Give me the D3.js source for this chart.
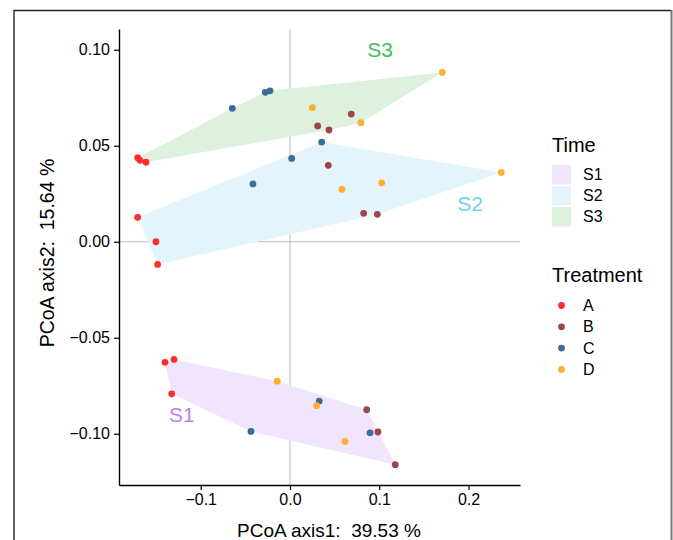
<!DOCTYPE html>
<html>
<head>
<meta charset="utf-8">
<script src="https://cdn.jsdelivr.net/npm/d3@7"></script>
<style>
  body { margin: 0; background: #fff; }
  svg { display: block; font-family: "Liberation Sans", Arial, sans-serif; }
</style>
</head>
<body>
<div id="chart-area"></div>
<script>
// ---- data ----
const treatments = ["A", "B", "C", "D"]
const times = ["S1", "S2", "S3"]

// one entry per sample: [PCoA1, PCoA2]
const s1A = [[-0.1400, -0.0628], [-0.1299, -0.0613], [-0.1325, -0.0792]]
const s1B = [[0.0859, -0.0875], [0.0985, -0.0991], [0.1179, -0.1161]]
const s1C = [[-0.0437, -0.0988], [0.0328, -0.0830], [0.0896, -0.0995]]
const s1D = [[-0.0142, -0.0726], [0.0299, -0.0854], [0.0616, -0.1040]]

const s2A = [[-0.1706, 0.0127], [-0.1501, 0.0000], [-0.1482, -0.0118]]
const s2B = [[0.0429, 0.0398], [0.0825, 0.0148], [0.0978, 0.0143]]
const s2C = [[-0.0414, 0.0301], [0.0019, 0.0434], [0.0355, 0.0519]]
const s2D = [[0.0582, 0.0273], [0.1027, 0.0307], [0.2366, 0.0361]]

const s3A = [[-0.1706, 0.0438], [-0.1680, 0.0424], [-0.1613, 0.0414]]
const s3B = [[0.0310, 0.0603], [0.0437, 0.0582], [0.0686, 0.0665]]
const s3C = [[-0.0646, 0.0695], [-0.0277, 0.0778], [-0.0224, 0.0786]]
const s3D = [[0.0250, 0.0698], [0.1705, 0.0882], [0.0795, 0.0620]]

// where each Time group name is written (data coords)
const groupLabelPos = { S1: [-0.121, -0.0903], S2: [0.2016, 0.0196], S3: [0.1008, 0.0998] }

const xTicks = [-0.1, 0, 0.1, 0.2]
const yTicks = [-0.10, -0.05, 0, 0.05, 0.10]
const xDomain = [-0.1915, 0.2576]
const yDomain = [-0.1267, 0.1108]

const xTitle = "PCoA axis1:  39.53 %"
const yTitle = "PCoA axis2:  15.64 %"

const raw = {
  S1: { A: s1A, B: s1B, C: s1C, D: s1D },
  S2: { A: s2A, B: s2B, C: s2C, D: s2D },
  S3: { A: s3A, B: s3B, C: s3C, D: s3D }
}
const dataset = []
times.forEach(t => treatments.forEach(tr => raw[t][tr].forEach(p => {
  dataset.push({ time: t, treatment: tr, x: p[0], y: p[1] })
})))

const xAccessor = d => d.x
const yAccessor = d => d.y

// ---- colours ----
const pointColor = d3.scaleOrdinal().domain(treatments)
  .range(["#ff2e2e", "#9c4648", "#3b6c9e", "#fcb02e"])
const hullFill = d3.scaleOrdinal().domain(times)
  .range(["#f1e4fd", "#e3f4fc", "#ddf1de"])
const labelColor = d3.scaleOrdinal().domain(times)
  .range(["#c47df2", "#6ccff6", "#45bd5c"])

// ---- layout ----
const svgWidth = 673
const svgHeight = 540
const plot = { left: 119, right: 520, top: 29, bottom: 485 }

const svg = d3.select("#chart-area")
  .append("svg")
  .attr("width", svgWidth)
  .attr("height", svgHeight)

// frame round the picture
svg.append("path")
  .attr("d", `M14,${svgHeight} V10.5 H671`)
  .attr("fill", "none")
  .attr("stroke", "#222")
  .attr("stroke-width", 1.4)
svg.append("line")
  .attr("x1", 671.5).attr("x2", 671.5)
  .attr("y1", 10).attr("y2", svgHeight)
  .attr("stroke", "#777")
  .attr("stroke-width", 2)

const xScale = d3.scaleLinear().domain(xDomain).range([plot.left, plot.right])
const yScale = d3.scaleLinear().domain(yDomain).range([plot.bottom, plot.top])

// zero reference lines
svg.append("line")
  .attr("x1", xScale(0)).attr("x2", xScale(0))
  .attr("y1", plot.top).attr("y2", plot.bottom)
  .attr("stroke", "#bdbdbd").attr("stroke-width", 1)
svg.append("line")
  .attr("x1", plot.left).attr("x2", plot.right)
  .attr("y1", yScale(0)).attr("y2", yScale(0))
  .attr("stroke", "#bdbdbd").attr("stroke-width", 1)

// hulls
times.forEach(t => {
  const pts = dataset.filter(d => d.time === t).map(d => [xScale(xAccessor(d)), yScale(yAccessor(d))])
  const hull = d3.polygonHull(pts)
  svg.append("path")
    .attr("d", "M" + hull.join("L") + "Z")
    .attr("fill", hullFill(t))
    .attr("stroke", "none")
})

// group labels
times.forEach(t => {
  svg.append("text")
    .attr("x", xScale(groupLabelPos[t][0]))
    .attr("y", yScale(groupLabelPos[t][1]))
    .attr("dy", "0.35em")
    .attr("text-anchor", "middle")
    .attr("font-size", 21)
    .attr("fill", labelColor(t))
    .text(t)
})

// points
svg.append("g")
  .selectAll("circle")
  .data(dataset)
  .join("circle")
  .attr("cx", d => xScale(xAccessor(d)))
  .attr("cy", d => yScale(yAccessor(d)))
  .attr("r", 3.4)
  .attr("fill", d => pointColor(d.treatment))

// axes
const xAxis = svg.append("g")
  .attr("transform", `translate(0,${plot.bottom})`)
  .call(d3.axisBottom(xScale).tickValues(xTicks).tickFormat(d3.format(".1f"))
    .tickSize(5).tickSizeOuter(0).tickPadding(4))
const yAxis = svg.append("g")
  .attr("transform", `translate(${plot.left},0)`)
  .call(d3.axisLeft(yScale).tickValues(yTicks).tickFormat(d3.format(".2f"))
    .tickSize(5).tickSizeOuter(0).tickPadding(4))

;[xAxis, yAxis].forEach(g => {
  g.select(".domain").attr("stroke", "#000").attr("stroke-width", 1.4)
  g.selectAll(".tick line").attr("stroke", "#000").attr("stroke-width", 1.2)
  g.selectAll(".tick text")
    .attr("fill", "#000")
    .attr("font-size", 16)
    .attr("font-family", "Liberation Sans, Arial, sans-serif")
})

// axis titles
svg.append("text")
  .attr("x", 329)
  .attr("y", 537)
  .attr("text-anchor", "middle")
  .attr("font-size", 19)
  .style("white-space", "pre")
  .text(xTitle)

svg.append("text")
  .attr("transform", "translate(54,253) rotate(-90)")
  .attr("text-anchor", "middle")
  .attr("font-size", 19.5)
  .style("white-space", "pre")
  .text(yTitle)

// legends
const legend = svg.append("g").attr("transform", "translate(552,0)")
legend.append("text")
  .attr("x", 0).attr("y", 152)
  .attr("font-size", 20)
  .text("Time")
times.forEach((t, i) => {
  legend.append("rect")
    .attr("x", 0).attr("y", 165 + i * 21)
    .attr("width", 19).attr("height", 19.5)
    .attr("fill", hullFill(t))
  legend.append("text")
    .attr("x", 31).attr("y", 174.5 + i * 21)
    .attr("dy", "0.35em")
    .attr("font-size", 16)
    .text(t)
})

legend.append("text")
  .attr("x", 0).attr("y", 282)
  .attr("font-size", 20)
  .text("Treatment")
treatments.forEach((tr, i) => {
  legend.append("circle")
    .attr("cx", 9.5).attr("cy", 305.5 + i * 21.3)
    .attr("r", 3.4)
    .attr("fill", pointColor(tr))
  legend.append("text")
    .attr("x", 31).attr("y", 305.5 + i * 21.3)
    .attr("dy", "0.35em")
    .attr("font-size", 16)
    .text(tr)
})
</script>
</body>
</html>
